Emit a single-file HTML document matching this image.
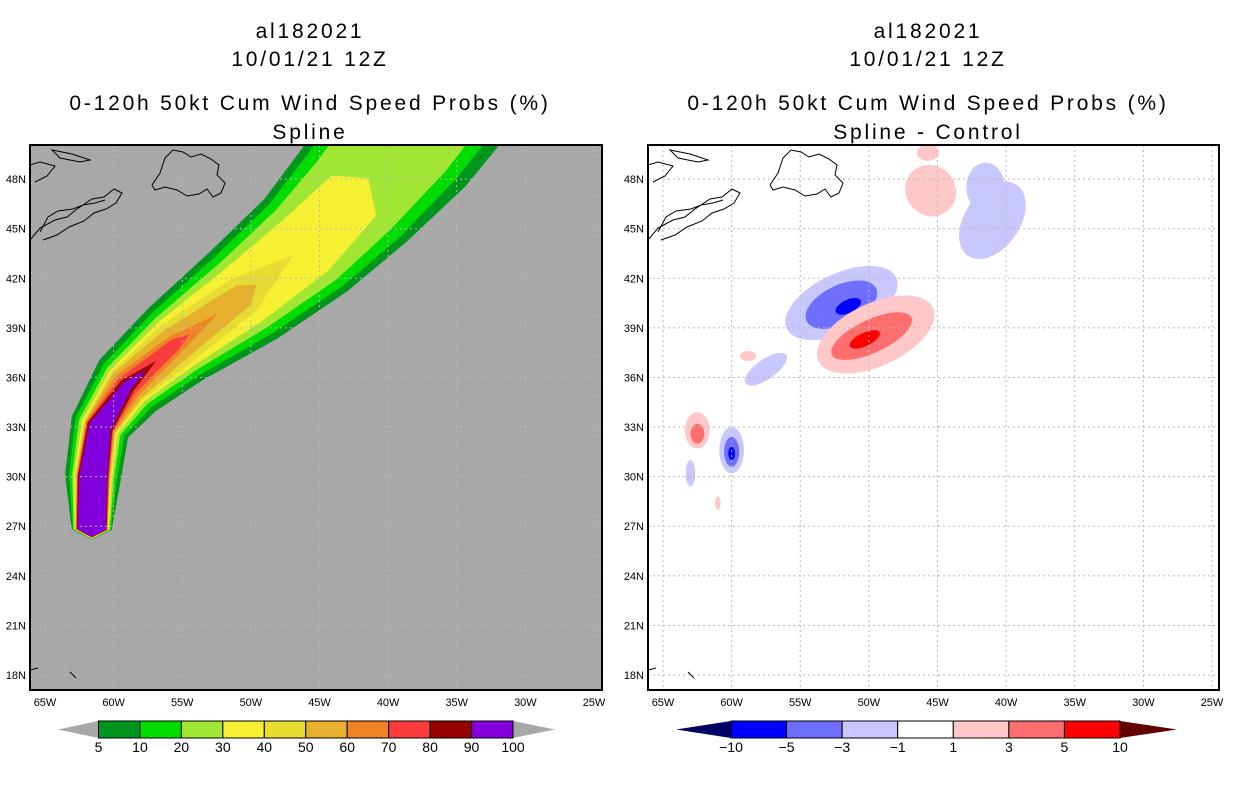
<!DOCTYPE html>
<html><head><meta charset="utf-8">
<style>
body{margin:0;background:#fff;width:1236px;height:800px;overflow:hidden}
svg text{font-family:"Liberation Sans",sans-serif}
.tt{letter-spacing:2.8px}
</style></head><body>
<svg id="s" width="1236" height="800" xmlns="http://www.w3.org/2000/svg">
<g font-size="21" text-anchor="middle" fill="#000" class="tt">
<text x="310" y="38">al182021</text>
<text x="310" y="66">10/01/21 12Z</text>
<text x="310" y="110">0-120h 50kt Cum Wind Speed Probs (%)</text>
<text x="310" y="139">Spline</text>
</g>
<g font-size="21" text-anchor="middle" fill="#000" class="tt">
<text x="928" y="38">al182021</text>
<text x="928" y="66">10/01/21 12Z</text>
<text x="928" y="110">0-120h 50kt Cum Wind Speed Probs (%)</text>
<text x="928" y="139">Spline - Control</text>
</g>
<defs>
<clipPath id="cl"><rect x="30" y="145" width="572" height="545"/></clipPath>
<clipPath id="cr"><rect x="648" y="145" width="571" height="545"/></clipPath>
</defs>
<g id="L" clip-path="url(#cl)"></g>
<g id="R" clip-path="url(#cr)"></g>
<g id="F"></g>
</svg>
<script>
// ---- data ----
const lonTicks=[65,60,55,50,45,40,35,30,25];
const latTicks=[48,45,42,39,36,33,30,27,24,21,18];
const trackLon=[61.6,61.5,61,59,55.5,50.5,46,42.5,39,36];
const trackLat=[26.8,30,33,35.5,38,41,44,47,50.5,54];
const probLevels=[5,10,20,30,40,50,60,70,80,90];
const probColors=['#00961e','#00dc00','#a0e632','#f5f032','#e6dc32','#e6af2d','#f08228','#fa3c3c','#960000','#8200dc'];
const swathEnd=[9,9,9,7.3,5.8,5.2,4.6,4.2,3.6,3.4];
const swathWidth=[
 [20,28,30,38,45,55,62,70,80,85],
 [19,24,26,32,39,48,55,62,68,72],
 [18,21,22,27,33,40,46,50,55,58],
 [17,19,19,23,28,32,34,30,20],
 [16,18,17,21,24,20],
 [16,17,16,19,18,12],
 [16,16,15,15,10],
 [15,16,14,11,6],
 [15,15,13,8],
 [14,14,11,5]];
const diffLevels=[-10,-5,-3,-1,1,3,5,10];
const diffColors=['#000064','#0000ff','#6e6eff','#c8c8ff','#ffffff','#ffc8c8','#ff6e6e','#ff0000','#640000'];
const blobLon=[52,52,51.5,49.5,49.8,50.3,41,41.5,45.5,62.5,62.5,60,60,60,63,57.5,58.8,61,45.7];
const blobLat=[40.5,40.4,40.3,38.6,38.5,38.3,45.5,47.5,47.3,32.8,32.6,31.6,31.5,31.4,30.2,36.5,37.3,28.4,49.6];
const blobRx=[4.4,2.8,1.0,4.6,3.2,1.2,2.0,1.4,1.8,0.9,0.5,0.9,0.55,0.25,0.35,1.8,0.6,0.2,0.8];
const blobRy=[1.8,1.2,0.4,1.9,1.0,0.4,2.6,1.5,1.6,1.1,0.6,1.4,0.9,0.4,0.8,0.6,0.3,0.4,0.5];
const blobRot=[-25,-25,-25,-25,-25,-25,35,0,-40,0,0,0,0,0,0,-35,0,0,0];
const blobCls=[3,2,1,5,6,7,3,3,5,5,6,3,2,1,3,3,5,5,5];
// ---- helpers ----
const NS='http://www.w3.org/2000/svg';
function mk(p,t,a){const e=document.createElementNS(NS,t);for(const k in a)e.setAttribute(k,a[k]);p.appendChild(e);return e;}
function xs(x0){return lon=>x0+(65-lon)*13.725;}
const y=lat=>675-(lat-18)*16.53;
const xL=xs(45), xR=xs(663);
const L=document.getElementById('L'),R=document.getElementById('R'),F=document.getElementById('F');
let bg=mk(L,'rect',{x:30,y:145,width:572,height:545,fill:'#a8a8a8'});

const px=trackLon.map(xL),py=trackLat.map(y);
function norm(i){const a=Math.max(0,i-1),b=Math.min(px.length-1,i+1);let dx=px[b]-px[a],dy=py[b]-py[a];const l=Math.hypot(dx,dy);return [-dy/l,dx/l];}
probLevels.forEach((lv,k)=>{
 const w=swathWidth[k];const end=swathEnd[k];let left=[],right=[];
 const nFull=Math.min(px.length-1,Math.floor(end));
 for(let i=0;i<=nFull&&i<w.length;i++){const n=norm(i);
  left.push([px[i]-n[0]*w[i],py[i]-n[1]*w[i]]);right.push([px[i]+n[0]*w[i],py[i]+n[1]*w[i]]);}
 if(end<px.length-1){const i=Math.floor(end),f=end-i;left.push([px[i]+(px[i+1]-px[i])*f,py[i]+(py[i+1]-py[i])*f]);}
 const pts=[[px[0],py[0]+10-k*0.3]].concat(left).concat(right.reverse());
 const pth=mk(L,'polygon',{points:pts.map(p=>p.join(',')).join(' '),fill:probColors[k]});
 
 
});
let bg2=mk(R,'rect',{x:648,y:145,width:571,height:545,fill:'#fff'});

blobLon.forEach((lo,i)=>{
 const cx=xR(lo),cy=y(blobLat[i]);
 const e=mk(R,'ellipse',{cx:cx,cy:cy,rx:blobRx[i]*13.725,ry:blobRy[i]*16.53,fill:diffColors[blobCls[i]],transform:`rotate(${blobRot[i]} ${cx} ${cy})`});
 
 
});
[[L,xL,30,602,'left'],[R,xR,648,1219,'right']].forEach(([g,xf,x0,x1,nm])=>{
 lonTicks.forEach(lo=>{const l=mk(g,'line',{x1:xf(lo),x2:xf(lo),y1:145,y2:690,stroke:'#b8b8b8','stroke-dasharray':'2,3'});
  const t=mk(F,'text',{x:xf(lo),y:706,'font-size':11,'text-anchor':'middle'});t.textContent=lo+'W';});
 latTicks.forEach(la=>{const l=mk(g,'line',{x1:x0,x2:x1,y1:y(la),y2:y(la),stroke:'#b8b8b8','stroke-dasharray':'2,3'});
  const t=mk(F,'text',{x:x0-4,y:y(la)+4,'font-size':11,'text-anchor':'end'});t.textContent=la+'N';});
 const o=x0-30;
 const c=mk(g,'path',{fill:'none',stroke:'#000','stroke-width':1,d:`M${o+30} 240 l10 -12 l15 -8 l12 -3 l10 -8 l15 -10 l12 -2 l10 -8 l8 4 l-6 10 l-10 6 l-12 4 l-10 8 l-15 6 l-12 8 l-14 5 M${o+40} 232 l8 -15 l10 -6 l15 -2 l10 -4 l12 -2 l10 -3 M${o+52} 150 l20 4 l18 6 l-10 2 l-20 -4 z M${o+152} 185 l8 -12 l5 -15 l8 -8 l10 2 l8 5 l10 -3 l10 5 l8 6 l-2 10 l8 8 l-4 10 l-8 4 l-6 -8 l-8 5 l-12 2 l-10 -6 l-12 -3 l-10 3 z M${o+30} 165 l10 -3 l15 4 l-8 10 l-12 6 M${o+30} 670 l8 -2 M${o+70} 672 l6 6`});
 
 const fr=mk(F,'rect',{x:x0,y:145,width:x1-x0,height:545,fill:'none',stroke:'#000','stroke-width':2});
 
});
function cbar(x0,x1,tipL,tipR,cols,labels,nm){
 const bc=nm==='left'?cols:cols.slice(1,-1);
 const bw=(x1-x0)/bc.length;const yt=721,yb=738,ym=729.5;
 const lc=nm==='left'?'#a8a8a8':cols[0], rc=nm==='left'?'#a8a8a8':cols[cols.length-1];
 let t=mk(F,'polygon',{points:`${tipL},${ym} ${x0},${yt} ${x0},${yb}`,fill:lc});
 t=mk(F,'polygon',{points:`${tipR},${ym} ${x1},${yt} ${x1},${yb}`,fill:rc});
 bc.forEach((c,i)=>{const r=mk(F,'rect',{x:x0+i*bw,y:yt,width:bw,height:yb-yt,fill:c,stroke:'#000','stroke-width':1});});
 labels.forEach((lb,i)=>{const tx=mk(F,'text',{x:x0+i*bw,y:752,'font-size':14,'text-anchor':'middle'});tx.textContent=String(lb).replace('-','\u2212');});
}
cbar(98.5,513,58,555,probColors,probLevels.concat([100]),'left');
cbar(731,1120,676,1177,diffColors,diffLevels,'right');
</script>
</body></html>
